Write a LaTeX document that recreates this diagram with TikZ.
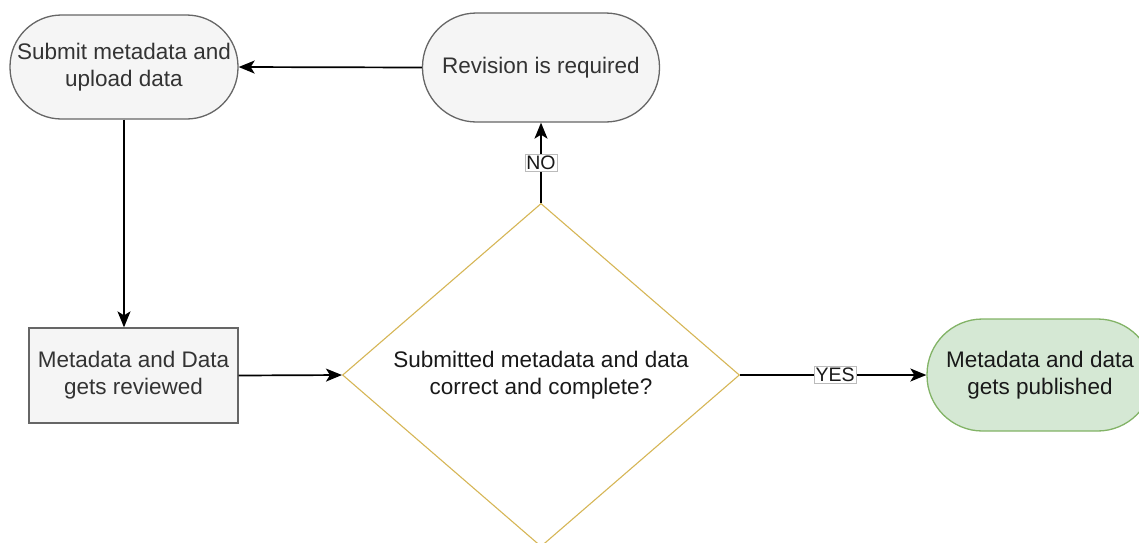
\documentclass[tikz,border=0pt]{standalone}
\usepackage{fontspec}
\setmainfont{Liberation Sans}
\usetikzlibrary{shapes.geometric,arrows.meta}
\definecolor{gfill}{HTML}{F5F5F5}
\definecolor{gline}{HTML}{666666}
\definecolor{gtext}{HTML}{333333}
\definecolor{yline}{HTML}{D6B656}
\definecolor{pfill}{HTML}{D5E8D4}
\definecolor{pline}{HTML}{82B366}
\definecolor{lblline}{HTML}{BBBBBB}
\tikzset{
  nodetext/.style={font=\fontsize{22.5}{27}\selectfont, align=center, inner sep=0pt},
  graystadium/.style={nodetext, draw=gline, fill=gfill, text=gtext, line width=1.3pt},
  graybox/.style={nodetext, draw=gline, fill=gfill, text=gtext, line width=1.3pt},
  decision/.style={nodetext, shape=diamond, draw=yline, fill=white, text=black!90, line width=1.1pt},
  greenstadium/.style={nodetext, draw=pline, fill=pfill, text=black!90, line width=1.3pt},
  flow/.style={line width=1.7pt, black, -{Stealth[length=16pt,width=13pt,inset=4pt]}},
  lbl/.style={font=\fontsize{19.5}{22}\selectfont, fill=white, draw=lblline, line width=0.6pt, inner sep=1.5pt, text=black!90}
}
\begin{document}
\begin{tikzpicture}[x=1pt,y=-1pt]
\useasboundingbox (0,0) rectangle (1139,542);
\clip (0,0) rectangle (1139,542);
\node[graystadium, minimum width=228pt, minimum height=104pt, rounded corners=51.5pt] (sub) at (124,67) {Submit metadata and\\upload data};
\node[graystadium, minimum width=237pt, minimum height=109pt, rounded corners=54pt] (rev) at (541,67.5) {Revision is required};
\node[graybox, minimum width=209pt, minimum height=95pt] (rv) at (133.5,375.5) {Metadata and Data\\gets reviewed};
\node[decision, minimum width=397pt, minimum height=340pt] (dia) at (541,375) {Submitted metadata and data\\correct and complete?};
\node[greenstadium, minimum width=226pt, minimum height=112pt, rounded corners=55.5pt] (pub) at (1040,375) {Metadata and data\\gets published};
\draw[flow] (rev.west) -- (sub.east);
\draw[flow] (sub.south) -- (sub.south |- rv.north);
\draw[flow] (rv.east) -- (dia.west);
\draw[flow] (dia.north) -- node[lbl, pos=0.5] (no) {NO} (rev.south);
\draw[flow] (dia.east) -- node[lbl, pos=0.51] (yes) {YES} (pub.west);
\end{tikzpicture}
\end{document}
